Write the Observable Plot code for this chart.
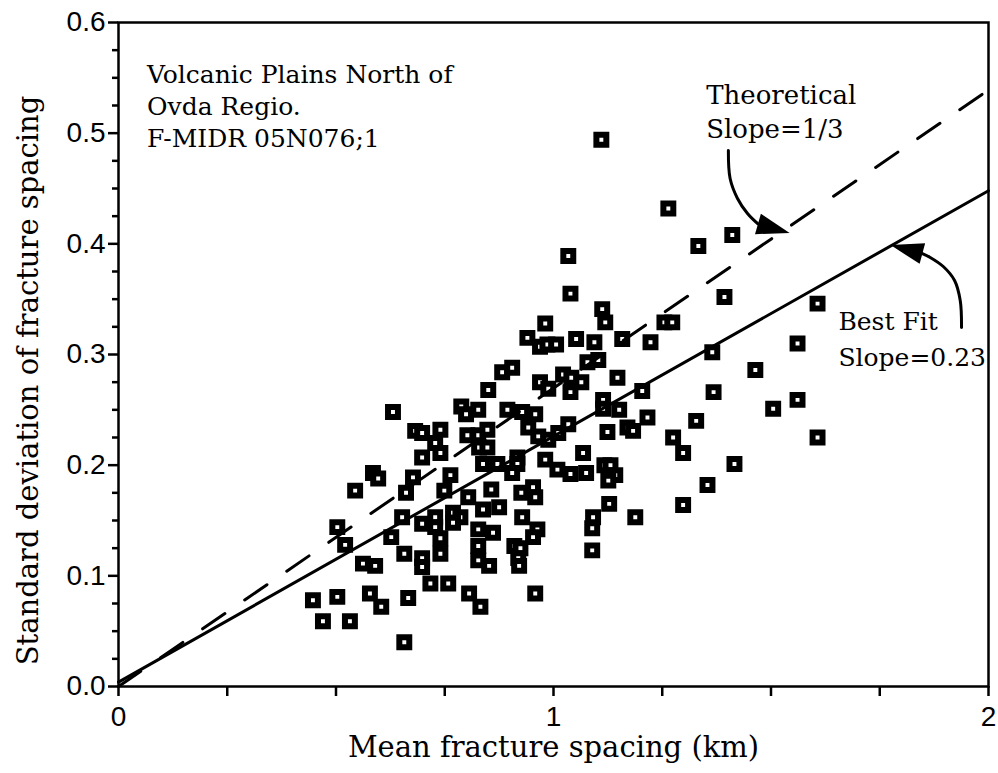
<!DOCTYPE html>
<html><head><meta charset="utf-8">
<script src="https://cdn.jsdelivr.net/npm/d3@7"></script>
<script src="https://cdn.jsdelivr.net/npm/@observablehq/plot@0.6"></script>
<style>body{margin:0;background:#fff}</style>
</head><body><div id="chart"></div>
<script>
// Scatter data: mean fracture spacing (km) vs standard deviation
const meanSpacing = [0.447,0.503,0.470,0.532,0.578,0.604,0.666,0.657,0.717,0.758,0.562,0.590,0.698,0.698,0.657,0.740,0.503,0.521,0.627,0.652,0.698,0.728,0.728,0.740,0.769,0.786,0.769,0.544,0.585,0.597,0.677,0.661,0.763,0.749,0.698,0.682,0.698,0.740,0.728,0.740,0.631,0.788,0.799,0.827,0.894,0.928,0.958,0.942,0.965,0.988,1.011,0.802,0.827,0.848,0.829,0.848,0.838,0.871,0.917,0.917,0.905,0.981,1.009,1.039,1.075,0.804,0.857,0.926,0.953,0.958,0.838,0.875,0.928,0.827,0.861,0.827,0.963,0.953,0.910,0.924,0.827,0.852,0.919,0.921,0.806,0.832,0.958,
0.850,0.882,0.905,0.940,0.969,0.986,1.006,0.981,0.969,0.988,1.022,1.041,1.064,1.039,1.052,1.094,1.078,1.103,1.147,1.112,1.119,1.034,1.039,1.110,1.158,1.223,1.255,1.273,1.264,1.333,1.204,1.114,1.114,1.151,1.034,1.124,1.170,1.183,1.216,1.328,1.275,1.298,1.068,1.117,1.131,1.142,1.126,1.128,1.091,1.089,1.089,1.188,1.298,1.354,1.416,1.365,1.368,1.411,1.393,1.607,1.561,1.464,1.561,1.505,1.607];
const stdDev = [0.078,0.081,0.059,0.059,0.084,0.072,0.080,0.040,0.093,0.093,0.111,0.109,0.116,0.108,0.120,0.120,0.144,0.128,0.135,0.153,0.147,0.153,0.144,0.134,0.157,0.153,0.148,0.177,0.193,0.188,0.189,0.175,0.191,0.177,0.207,0.231,0.229,0.232,0.220,0.211,0.248,0.253,0.246,0.250,0.250,0.248,0.246,0.234,0.226,0.223,0.229,0.227,0.227,0.232,0.216,0.216,0.201,0.201,0.207,0.201,0.193,0.205,0.196,0.192,0.193,0.171,0.178,0.175,0.180,0.171,0.160,0.162,0.153,0.142,0.139,0.127,0.142,0.135,0.127,0.125,0.114,0.109,0.116,0.109,0.084,0.072,0.084,
0.268,0.284,0.288,0.315,0.307,0.309,0.309,0.328,0.275,0.269,0.282,0.279,0.275,0.266,0.314,0.311,0.293,0.295,0.279,0.341,0.329,0.389,0.355,0.494,0.314,0.311,0.329,0.329,0.432,0.398,0.267,0.259,0.251,0.250,0.237,0.230,0.234,0.231,0.243,0.240,0.225,0.211,0.211,0.200,0.200,0.191,0.186,0.165,0.153,0.143,0.123,0.153,0.164,0.182,0.201,0.302,0.266,0.408,0.352,0.346,0.310,0.286,0.259,0.251,0.225];

// Reference lines
const theoreticalX = [0, 2];
const theoreticalY = [0, 0.539];
const bestFitX = [0, 2];
const bestFitY = [0.004, 0.448];

// Tick values
const xTicks = [0, 0.25, 0.5, 0.75, 1, 1.25, 1.5, 1.75, 2];
const xTickLabels = ["0", "", "", "", "1", "", "", "", "2"];
const yTicks = [0, 0.1, 0.2, 0.3, 0.4, 0.5, 0.6];
const yTickLabels = ["0.0", "0.1", "0.2", "0.3", "0.4", "0.5", "0.6"];
const yMinorTicks = d3.range(0, 25).filter(i => i % 4 !== 0).map(i => i * 0.025);

// Annotations
const noteText = ["Volcanic Plains North of", "Ovda Regio.", "F-MIDR 05N076;1", "Theoretical", "Slope=1/3", "Best Fit", "Slope=0.23"];
const noteX = [0.0656, 0.0656, 0.0656, 1.351, 1.351, 1.655, 1.655];
const noteY = [0.5525, 0.5236, 0.4946, 0.534, 0.503, 0.329, 0.297];
const noteSize = [25, 25, 25, 26, 26, 25, 25];

// Curved annotation arrows (data units)
const arrowId = ["theo", "theo", "theo", "theo", "theo", "fit", "fit", "fit", "fit", "fit", "fit"];
const arrowX = [1.402, 1.406, 1.423, 1.446, 1.470, 1.938, 1.935, 1.922, 1.896, 1.866, 1.848];
const arrowY = [0.4843, 0.459, 0.441, 0.4274, 0.4180, 0.3244, 0.3488, 0.3669, 0.3795, 0.3877, 0.3912];
const headX = [1.470, 1.848];
const headY = [0.4180, 0.3912];
const headAngle = [16, 195];

const points = meanSpacing.map((x, i) => ({x, y: stdDev[i]}));
const lineRows = (xs, ys) => xs.map((x, i) => ({x, y: ys[i]}));
const arrows = arrowX.map((x, i) => ({id: arrowId[i], x, y: arrowY[i]}));
const heads = headX.map((x, i) => ({x, y: headY[i], a: headAngle[i]}));
const notes = noteText.map((t, i) => ({t, x: noteX[i], y: noteY[i], s: noteSize[i]}));

const headSymbol = {
  draw(ctx, size) {
    const s = Math.sqrt(size);
    ctx.moveTo(1.55 * s, 0);
    ctx.lineTo(0, -0.5 * s);
    ctx.lineTo(0, 0.5 * s);
    ctx.closePath();
  }
};

const serif = "'DejaVu Serif', serif";
const sans = "'Liberation Sans', Arial, sans-serif";

const chart = Plot.plot({
  width: 998,
  height: 773,
  marginLeft: 118,
  marginRight: 10,
  marginTop: 22,
  marginBottom: 87,
  style: {background: "white", color: "black", fontFamily: sans},
  x: {domain: [0, 2]},
  y: {domain: [0, 0.6]},
  marks: [
    Plot.axisX({ticks: xTicks, tickSize: 10, tickPadding: 10, strokeWidth: 2.5,
      tickFormat: d => xTickLabels[xTicks.indexOf(d)], fontSize: 28, fontFamily: sans, label: null}),
    Plot.axisY({ticks: yTicks, tickSize: 10, tickPadding: 3, strokeWidth: 2.5,
      tickFormat: d => yTickLabels[yTicks.indexOf(d)], fontSize: 28, fontFamily: sans, label: null}),
    Plot.axisY({ticks: yMinorTicks, tickSize: 6, strokeWidth: 2.5, tickFormat: () => "", label: null}),
    Plot.frame({strokeWidth: 2.5}),
    Plot.dot(points, {x: "x", y: "y", symbol: "square", r: 5.6, fill: "white", stroke: "black", strokeWidth: 6}),
    Plot.line(lineRows(theoreticalX, theoreticalY), {x: "x", y: "y", stroke: "black", strokeWidth: 3, strokeDasharray: "27,24"}),
    Plot.line(lineRows(bestFitX, bestFitY), {x: "x", y: "y", stroke: "black", strokeWidth: 3}),
    Plot.line(arrows, {x: "x", y: "y", z: "id", curve: "catmull-rom", stroke: "black", strokeWidth: 3}),
    Plot.dot(heads, {x: "x", y: "y", symbol: headSymbol, r: 12, rotate: "a", fill: "black", stroke: "none"}),
    Plot.text(notes, {x: "x", y: "y", text: "t", fontSize: "s", textAnchor: "start", lineAnchor: "middle", fontFamily: serif, fill: "black"}),
    Plot.text(["Mean fracture spacing (km)"], {text: d => d, frameAnchor: "bottom", dy: 70, fontSize: 29, fontFamily: serif, fill: "black"}),
    Plot.text(["Standard deviation of fracture spacing"], {text: d => d, frameAnchor: "left", textAnchor: "middle", dx: -90, dy: 26, rotate: -90, fontSize: 29, fontFamily: serif, fill: "black"})
  ]
});
document.getElementById("chart").appendChild(chart);
</script>
</body></html>
